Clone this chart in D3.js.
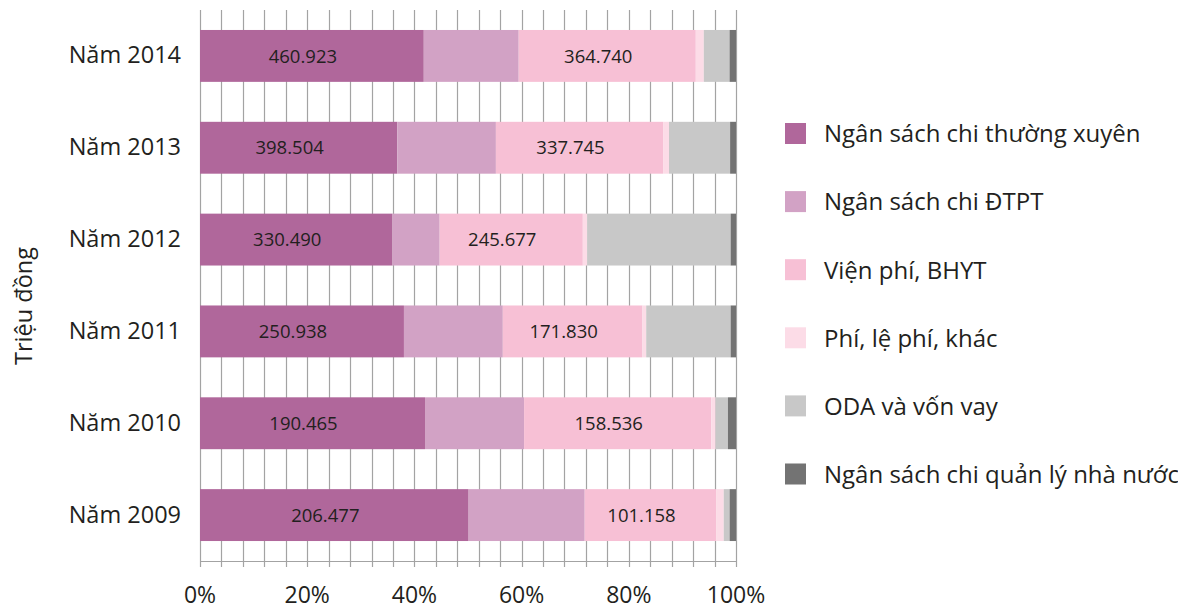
<!DOCTYPE html>
<html lang="vi">
<head>
<meta charset="utf-8">
<script src="https://cdn.jsdelivr.net/npm/d3@7"></script>
<style>
  html, body { margin: 0; padding: 0; background: #fff; }
  svg { display: block; font-family: "Open Sans", "Noto Sans", sans-serif; }
</style>
</head>
<body>
<svg id="chart" width="1178" height="611"></svg>
<script>
// Năm (top to bottom)
const years = ["Năm 2014", "Năm 2013", "Năm 2012", "Năm 2011", "Năm 2010", "Năm 2009"];

// Series names
const seriesNames = [
  "Ngân sách chi thường xuyên",
  "Ngân sách chi ĐTPT",
  "Viện phí, BHYT",
  "Phí, lệ phí, khác",
  "ODA và vốn vay",
  "Ngân sách chi quản lý nhà nước"
];

// Values in triệu đồng, one entry per year (same order as `years`)
const chiThuongXuyen = [460923, 398504, 330490, 250938, 190465, 206477];
const chiDTPT        = [195500, 199200,  80900, 121650,  83850,  89220];
const vienPhiBHYT    = [364740, 337745, 245677, 171830, 158536, 101158];
const phiLePhiKhac   = [ 16570,  11910,   7350,   4600,   3630,   5730];
const odaVonVay      = [ 53020, 123430, 246400, 103900,  10420,   4500];
const chiQuanLyNN    = [ 13250,  11910,   9190,   6580,   6800,   4910];

// Series that carry a value label inside the bar
const labelledSeries = [0, 2];

// Axis ticks
const gridStep = 0.04;
const tickLabels = [0, 0.2, 0.4, 0.6, 0.8, 1.0];

const colors = ["#B0679B", "#D2A2C5", "#F7C0D5", "#FCDCE7", "#C8C8C8", "#737373"];
const textColor = "#231F20";
const gridColor = "#A3A3A3";

const seriesValues = [chiThuongXuyen, chiDTPT, vienPhiBHYT, phiLePhiKhac, odaVonVay, chiQuanLyNN];

const rows = years.map((y, i) => {
  const r = { year: y };
  seriesNames.forEach((s, k) => { r[s] = seriesValues[k][i]; });
  return r;
});

const stacked = d3.stack()
  .keys(seriesNames)
  .offset(d3.stackOffsetExpand)(rows);

const svg = d3.select("#chart");

const plot = { left: 200, right: 736, top: 10, bottom: 561 };

const x = d3.scaleLinear().domain([0, 1]).range([plot.left, plot.right]);
const y = d3.scaleBand()
  .domain(years)
  .range([plot.top, plot.bottom])
  .paddingInner(0.435)
  .paddingOuter(0.2175);

const viFormat = d3.formatLocale({
  decimal: ",", thousands: ".", grouping: [3], currency: ["", " ₫"]
}).format(",d");

// Vertical gridlines (with small ticks below the baseline)
const gridValues = d3.range(0, 1 + gridStep / 2, gridStep);
svg.append("g")
  .selectAll("line")
  .data(gridValues)
  .join("line")
  .attr("x1", d => Math.round(x(d)) + 0.5)
  .attr("x2", d => Math.round(x(d)) + 0.5)
  .attr("y1", plot.top)
  .attr("y2", plot.bottom + 6)
  .attr("stroke", gridColor)
  .attr("stroke-width", 1.2);

// Baseline
svg.append("line")
  .attr("x1", plot.left).attr("x2", plot.right + 1)
  .attr("y1", plot.bottom + 0.5).attr("y2", plot.bottom + 0.5)
  .attr("stroke", gridColor)
  .attr("stroke-width", 1.2);

// Stacked bars
svg.append("g")
  .selectAll("g")
  .data(stacked)
  .join("g")
  .attr("fill", (d, i) => colors[i])
  .selectAll("rect")
  .data(d => d)
  .join("rect")
  .attr("x", d => x(d[0]))
  .attr("y", d => y(d.data.year))
  .attr("width", d => x(d[1]) - x(d[0]))
  .attr("height", y.bandwidth());

// Value labels
const labelData = [];
labelledSeries.forEach(k => {
  stacked[k].forEach(d => {
    labelData.push({ year: d.data.year, x0: d[0], x1: d[1], value: d.data[seriesNames[k]] });
  });
});
svg.append("g")
  .selectAll("text")
  .data(labelData)
  .join("text")
  .attr("x", d => (x(d.x0) + x(d.x1)) / 2 - 9)
  .attr("y", d => y(d.year) + y.bandwidth() / 2)
  .attr("dy", "0.36em")
  .attr("text-anchor", "middle")
  .attr("font-size", 18.5)
  .attr("fill", textColor)
  .text(d => viFormat(d.value));

// Category labels
svg.append("g")
  .selectAll("text")
  .data(years)
  .join("text")
  .attr("x", 181)
  .attr("y", d => y(d) + y.bandwidth() / 2)
  .attr("dy", 7.5)
  .attr("text-anchor", "end")
  .attr("font-size", 23.5)
  .attr("fill", textColor)
  .text(d => d);

// Percent tick labels
svg.append("g")
  .selectAll("text")
  .data(tickLabels)
  .join("text")
  .attr("x", d => x(d))
  .attr("y", 603)
  .attr("text-anchor", "middle")
  .attr("font-size", 23)
  .attr("fill", textColor)
  .text(d => d3.format(".0%")(d));

// Y axis title
svg.append("text")
  .attr("transform", "translate(32,306) rotate(-90)")
  .attr("text-anchor", "middle")
  .attr("font-size", 23.5)
  .attr("fill", textColor)
  .text("Triệu đồng");

// Legend
const legend = svg.append("g")
  .selectAll("g")
  .data(seriesNames)
  .join("g")
  .attr("transform", (d, i) => `translate(785,${133.5 + i * 68.1})`);
legend.append("rect")
  .attr("x", 0).attr("y", -10.5)
  .attr("width", 21).attr("height", 21)
  .attr("fill", (d, i) => colors[i]);
legend.append("text")
  .attr("x", 39)
  .attr("y", 8.8)
  .attr("font-size", 24)
  .attr("fill", textColor)
  .text(d => d);
</script>
</body>
</html>
